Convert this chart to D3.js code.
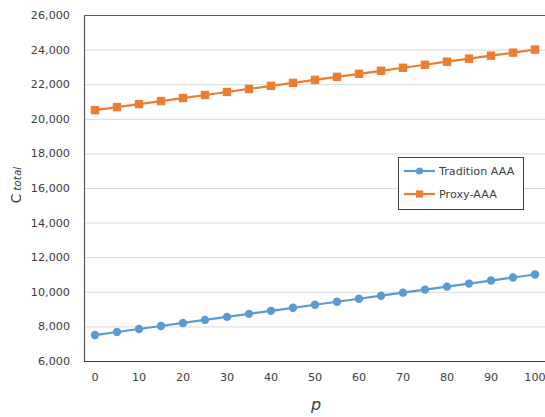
<!DOCTYPE html>
<html><head><meta charset="utf-8">
<script src="https://cdn.jsdelivr.net/npm/d3@7"></script>
<style>body{margin:0;background:#fff}svg{display:block}text{font-family:"DejaVu Sans",sans-serif;fill:#404040}</style>
</head><body><svg id="c" width="545" height="417"></svg>
<script>
const categories = [0,5,10,15,20,25,30,35,40,45,50,55,60,65,70,75,80,85,90,95,100];
const traditionValues = [7500,7675,7850,8025,8200,8375,8550,8725,8900,9075,9250,9425,9600,9775,9950,10125,10300,10475,10650,10825,11000];
const proxyValues = [20500,20675,20850,21025,21200,21375,21550,21725,21900,22075,22250,22425,22600,22775,22950,23125,23300,23475,23650,23825,24000];
const yTicks = [6000,8000,10000,12000,14000,16000,18000,20000,22000,24000,26000];
const xTickLabels = [0,10,20,30,40,50,60,70,80,90,100];
const seriesNames = ["Tradition AAA","Proxy-AAA"];
const colors = ["#5B9BD5","#ED7D31"];

const svg = d3.select("#c");
const L=84, R=546, T=15, B=361;
const x = d3.scaleBand().domain(categories).range([L,R]);
const y = d3.scaleLinear().domain([6000,26000]).range([B,T]);
const fmt = d3.format(",");

svg.append("g").selectAll("line").data(yTicks).join("line")
  .attr("x1",L).attr("x2",R).attr("y1",d=>y(d)+0.5).attr("y2",d=>y(d)+0.5)
  .attr("stroke","#d9d9d9").attr("stroke-width",1);

const ya = svg.append("g").attr("transform",`translate(${L},0)`)
  .call(d3.axisLeft(y).tickValues(yTicks).tickFormat(fmt).tickSize(0).tickPadding(14));
ya.select(".domain").remove();
ya.selectAll("text").attr("font-size",11.2).attr("font-family","'DejaVu Sans',sans-serif").attr("fill","#404040");

const xa = svg.append("g").attr("transform",`translate(0,${B})`)
  .call(d3.axisBottom(x).tickValues(xTickLabels).tickSize(0).tickPadding(12));
xa.select(".domain").remove();
xa.selectAll("text").attr("font-size",11.2).attr("font-family","'DejaVu Sans',sans-serif").attr("fill","#404040");

svg.append("line").attr("x1",L+0.5).attr("x2",L+0.5).attr("y1",T).attr("y2",B+0.5).attr("stroke","#595959").attr("stroke-width",1.2);
svg.append("line").attr("x1",L).attr("x2",R).attr("y1",B+0.5).attr("y2",B+0.5).attr("stroke","#404040").attr("stroke-width",1.2);
svg.append("line").attr("x1",L).attr("x2",R).attr("y1",T+0.5).attr("y2",T+0.5).attr("stroke","#595959").attr("stroke-width",1.2);

const cx = d => x(d) + x.bandwidth()/2;
const line = d3.line().x((d,i)=>cx(categories[i])).y(d=>y(d));

[traditionValues, proxyValues].forEach((vals,si)=>{
  svg.append("path").datum(vals).attr("d",line).attr("fill","none")
    .attr("stroke",colors[si]).attr("stroke-width",2.2);
  const g = svg.append("g");
  if(si===0){
    g.selectAll("circle").data(vals).join("circle")
      .attr("cx",(d,i)=>cx(categories[i])).attr("cy",d=>y(d)).attr("r",4.2).attr("fill",colors[si]);
  } else {
    g.selectAll("rect").data(vals).join("rect")
      .attr("x",(d,i)=>cx(categories[i])-4.2).attr("y",d=>y(d)-4.2)
      .attr("width",8.4).attr("height",8.4).attr("fill",colors[si]);
  }
});

const lg = svg.append("g");
lg.append("rect").attr("x",398.5).attr("y",157.5).attr("width",125).attr("height",52)
  .attr("fill","#fff").attr("stroke","#404040").attr("stroke-width",1);
seriesNames.forEach((n,i)=>{
  const yy = 171 + i*23;
  lg.append("line").attr("x1",404).attr("x2",435).attr("y1",yy).attr("y2",yy).attr("stroke",colors[i]).attr("stroke-width",2.2);
  if(i===0) lg.append("circle").attr("cx",419.5).attr("cy",yy).attr("r",3.6).attr("fill",colors[i]);
  else lg.append("rect").attr("x",416).attr("y",yy-3.6).attr("width",7.2).attr("height",7.2).attr("fill",colors[i]);
  lg.append("text").attr("x",439).attr("y",yy+4).attr("font-size",11.2).attr("fill","#262626").text(n);
});

const yt = svg.append("text").attr("transform","translate(21,185) rotate(-90)")
  .attr("text-anchor","middle").attr("font-size",13.5).attr("fill","#404040");
yt.append("tspan").text("C");
yt.append("tspan").attr("font-size",10.5).attr("font-style","italic").attr("dx",3).text("total");

svg.append("text").attr("x",316).attr("y",410).attr("text-anchor","middle")
  .attr("font-size",16).attr("font-style","italic").attr("fill","#404040").text("p");
</script></body></html>
